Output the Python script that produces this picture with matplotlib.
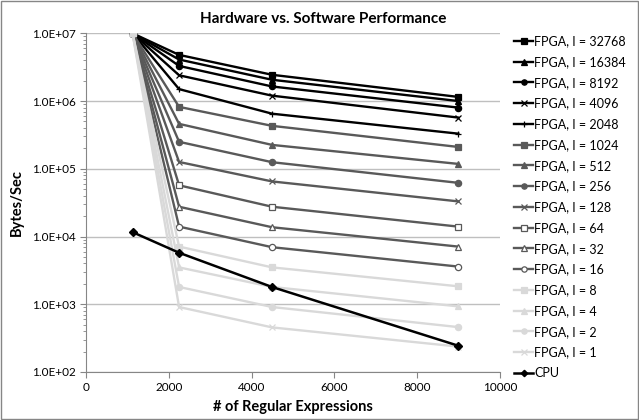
import math

import matplotlib
matplotlib.use("Agg")
import matplotlib.pyplot as plt
from matplotlib.patches import Rectangle
from matplotlib.ticker import FixedLocator, LogLocator, NullFormatter, FuncFormatter

plt.rcParams["font.family"] = ["Lato", "DejaVu Sans"]

# number of regular expressions
x_vals = [1124, 2248, 4496, 8992]

labels = ["FPGA, I = 32768", "FPGA, I = 16384", "FPGA, I = 8192", "FPGA, I = 4096",
          "FPGA, I = 2048", "FPGA, I = 1024", "FPGA, I = 512", "FPGA, I = 256",
          "FPGA, I = 128", "FPGA, I = 64", "FPGA, I = 32", "FPGA, I = 16",
          "FPGA, I = 8", "FPGA, I = 4", "FPGA, I = 2", "FPGA, I = 1"]

# bytes/sec, one row per series (same order as labels)
fpga_vals = [
    [1.0e7, 4.8e6, 2.44e6, 1.15e6],
    [1.0e7, 4.1e6, 2.06e6, 1.0e6],
    [1.0e7, 3.3e6, 1.64e6, 8.0e5],
    [1.0e7, 2.4e6, 1.2e6, 5.7e5],
    [1.0e7, 1.5e6, 6.5e5, 3.3e5],
    [1.0e7, 8.2e5, 4.3e5, 2.1e5],
    [1.0e7, 4.6e5, 2.25e5, 1.18e5],
    [1.0e7, 2.5e5, 1.25e5, 6.2e4],
    [1.0e7, 1.26e5, 6.5e4, 3.3e4],
    [1.0e7, 5.7e4, 2.75e4, 1.4e4],
    [1.0e7, 2.75e4, 1.37e4, 7.1e3],
    [1.0e7, 1.4e4, 6.95e3, 3.6e3],
    [1.0e7, 7.1e3, 3.5e3, 1.84e3],
    [1.0e7, 3.5e3, 1.8e3, 930],
    [1.0e7, 1.8e3, 910, 460],
    [1.0e7, 910, 455, 237],
]

cpu_vals = [11600, 5760, 1795, 244]

black = "#000000"
dark = "#595959"
light = "#d9d9d9"
colors = [black] * 5 + [dark] * 7 + [light] * 4
markers = ["s", "^", "o", "x", "+", "s", "^", "o", "x", "s", "^", "o", "s", "^", "o", "x"]
filled = [True] * 9 + [False] * 3 + [True] * 4

fig = plt.figure(figsize=(6.39, 4.2), dpi=100)
ax = fig.add_axes([0.1346, 0.1143, 0.648, 0.8064])

for lab, vals, c, m, f in zip(labels, fpga_vals, colors, markers, filled):
    ax.plot(x_vals, vals, color=c, lw=1.7, marker=m, markersize=4.5,
            markerfacecolor=c if f else "white", markeredgecolor=c,
            markeredgewidth=0.9, label=lab, zorder=3)

ax.plot(x_vals, cpu_vals, color=black, lw=1.8, marker="D", markersize=3.8,
        label="CPU", zorder=4)

ax.set_yscale("log")
ax.set_ylim(1e2, 1e7)
ax.set_xlim(0, 10000)
ax.xaxis.set_major_locator(FixedLocator([0, 2000, 4000, 6000, 8000, 10000]))
ax.yaxis.set_major_locator(LogLocator(base=10))
ax.yaxis.set_minor_locator(LogLocator(base=10, subs=range(2, 10)))
ax.yaxis.set_minor_formatter(NullFormatter())
ax.yaxis.set_major_formatter(FuncFormatter(lambda v, p: "1.0E+%02d" % round(math.log10(v))))

ax.grid(axis="y", which="major", color="#bfbfbf", lw=1.0)
ax.set_axisbelow(True)
for s in ["top", "right"]:
    ax.spines[s].set_visible(False)
ax.spines["left"].set_color("#868686")
ax.spines["bottom"].set_color("#868686")
ax.tick_params(axis="both", which="both", colors="#868686", labelcolor="black", labelsize=8.5)
ax.tick_params(axis="y", which="major", length=4)
ax.tick_params(axis="y", which="minor", length=2)
ax.tick_params(axis="x", length=4)

ax.set_xlabel("# of Regular Expressions", fontsize=10.5, fontweight="bold", labelpad=5)
ax.set_ylabel("Bytes/Sec", fontsize=10.5, fontweight="bold", labelpad=6)
fig.text(0.505, 0.955, "Hardware vs. Software Performance", ha="center", va="center",
         fontsize=11, fontweight="bold")

leg = fig.legend(loc="upper left", bbox_to_anchor=(0.797, 0.928), frameon=False,
                 fontsize=9, handlelength=1.5, handletextpad=0.1, labelspacing=0.70,
                 borderaxespad=0, markerscale=0.85)

fig.patches.append(Rectangle((0.002, 0.002), 0.996, 0.996, transform=fig.transFigure,
                             fill=False, edgecolor="#868686", lw=1.0))

fig.savefig("out.png", dpi=100)
